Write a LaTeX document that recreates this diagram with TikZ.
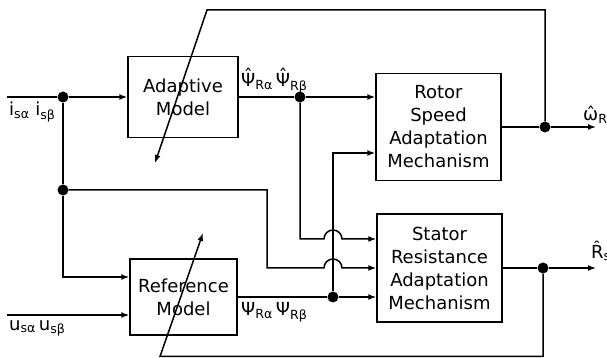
\documentclass[tikz,border=0pt]{standalone}
\usepackage{fontspec}
\setmainfont{DejaVu Sans}
\usepackage{tikz}
\usetikzlibrary{arrows.meta,positioning,calc}
\definecolor{ink}{HTML}{000000}
\newcommand{\hatpsi}{\ooalign{Ψ\cr\hidewidth\raisebox{0.2em}{ˆ}\hidewidth\cr}}
\tikzset{
  blk/.style={draw=ink,line width=1.5pt,align=center,text=ink,
    font=\fontsize{18}{23}\selectfont,inner sep=0pt},
  jn/.style={circle,fill=ink,draw=none,minimum size=11pt,inner sep=0pt},
  wire/.style={line width=1.5pt,color=ink},
  flow/.style={wire,-{Latex[length=8pt,width=6pt]}},
  sig/.style={font=\fontsize{18}{23}\selectfont,text=ink,inner sep=1pt}
}

\begin{document}
\begin{tikzpicture}[x=1pt,y=1pt]
  \useasboundingbox (0,0) rectangle (607,358);
  % blocks
  \node[blk,minimum width=110pt,minimum height=81pt] (adm) at (183,261) {Adaptive\\Model};
  \node[blk,minimum width=107pt,minimum height=76pt] (ref) at (183.5,61) {Reference\\Model};
  \node[blk,minimum width=125pt,minimum height=107pt] (rsam) at (438.5,231) {Rotor\\Speed\\Adaptation\\Mechanism};
  \node[blk,minimum width=125pt,minimum height=108pt] (stam) at (439.5,90) {Stator\\Resistance\\Adaptation\\Mechanism};
  % junctions
  \node[jn] (d1) at (63,261) {};
  \node[jn] (d2) at (63,168) {};
  \node[jn] (d3) at (300,261) {};
  \node[jn] (d4) at (333,61) {};
  \node[jn] (d5) at (545,231) {};
  \node[jn] (d6) at (543,90) {};
  % free ends and corners
  \coordinate (iin) at (7,261);
  \coordinate (uin) at (7,43);
  \coordinate (bend) at (267,90);
  \coordinate (hop1) at (333,119);
  \coordinate (hop2) at (333,90);
  \coordinate (wout) at (596,231);
  \coordinate (rout) at (596,90);
  \coordinate (fbtop) at (207,348);
  \coordinate (tip1) at (155,195);
  \coordinate (fbbot) at (160,1.5);
  \coordinate (tip2) at (203,125);
  % signal labels
  \node[sig,anchor=north west] (isig) at (8,257) {i\textsubscript{sα} i\textsubscript{sβ}};
  \node[sig,anchor=north west] (usig) at (8,39) {u\textsubscript{sα}\,u\textsubscript{sβ}};
  \node[sig,anchor=south west] (psih) at (240,264) {\hatpsi\textsubscript{Rα}\,\hatpsi\textsubscript{Rβ}};
  \node[sig,anchor=north west] (psir) at (240,57) {Ψ\textsubscript{Rα}\,Ψ\textsubscript{Rβ}};
  \node[sig,anchor=south west] (wsig) at (582,233) {ω̂\textsubscript{R}};
  \node[sig,anchor=south west] (rsig) at (590,96) {R̂\textsubscript{s}};
  % connectors
  \draw[wire] (iin) -- (d1);
  \draw[flow] (d1) -- (d1 -| adm.west);
  \draw[wire] (d1) -- (d2);
  \draw[flow] (d2) |- ([yshift=20pt]ref.west);
  \draw[flow] (uin) -- (uin -| ref.west);
  \draw[wire] (adm.east) -- (d3);
  \draw[flow] (d3) -- (d3 -| rsam.west);
  \draw[flow] (d3) |- ([xshift=-9pt]hop1) arc[start angle=180,end angle=0,radius=9pt] -- (hop1 -| stam.west);
  \draw[flow] (d2) -| (bend) -- ([xshift=-9pt]hop2) arc[start angle=180,end angle=0,radius=9pt] -- (hop2 -| stam.west);
  \draw[wire] (ref.east) -- (d4);
  \draw[flow] (d4) -- (d4 -| stam.west);
  \draw[flow] (d4) |- ([yshift=-26pt]rsam.west);
  \draw[wire] (rsam.east) -- (d5);
  \draw[flow] (d5) -- (wout);
  \draw[flow] (d5) |- (fbtop) -- (tip1);
  \draw[wire] (stam.east) -- (d6);
  \draw[flow] (d6) -- (rout);
  \draw[flow] (d6) |- (fbbot) -- (tip2);
\end{tikzpicture}
\end{document}
